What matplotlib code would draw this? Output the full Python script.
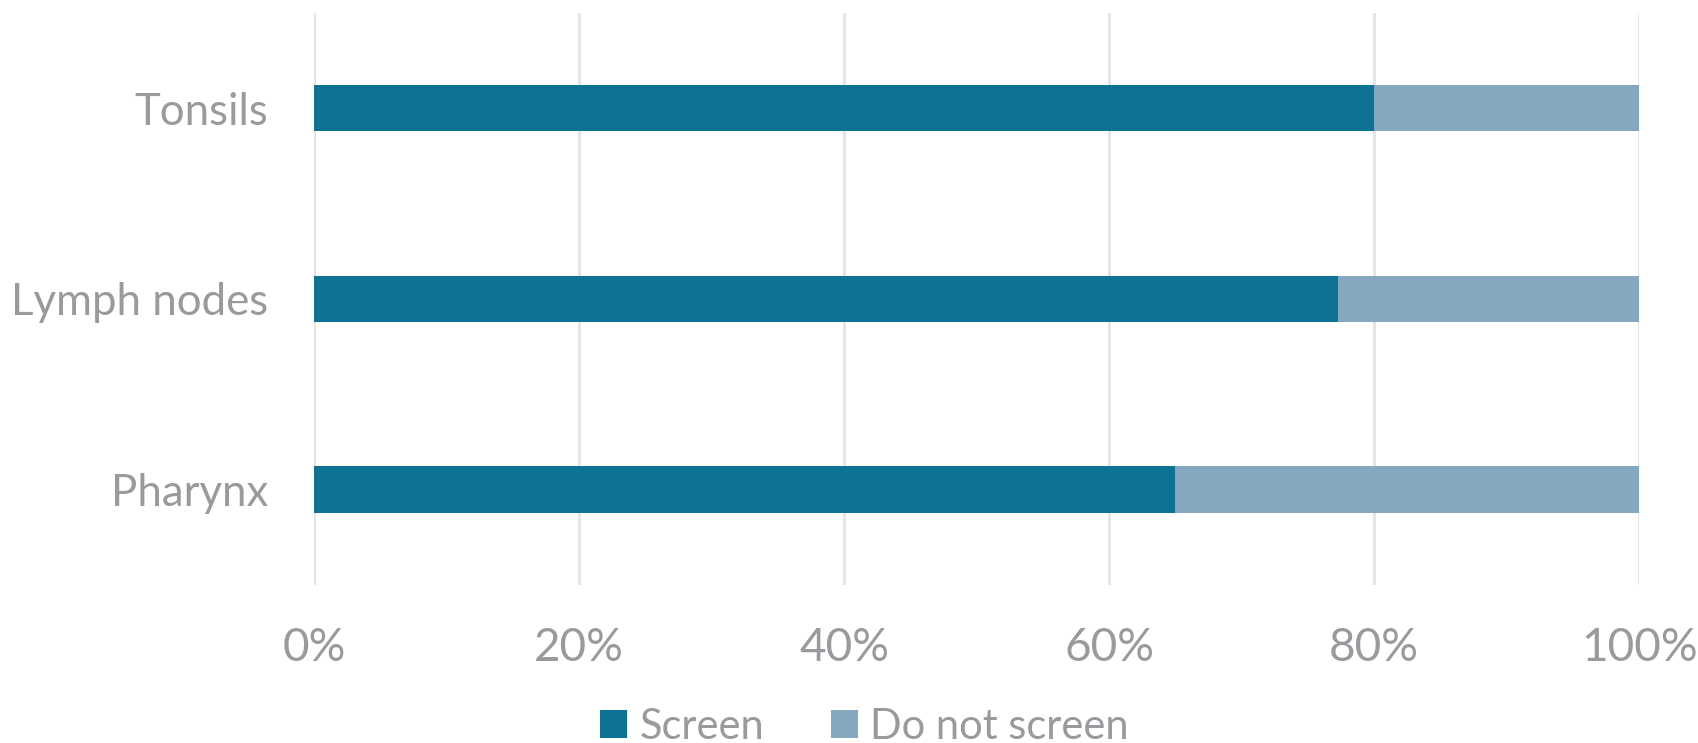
import matplotlib
matplotlib.use('Agg')
import matplotlib.pyplot as plt
from matplotlib.ticker import PercentFormatter

plt.rcParams['font.family'] = ['Lato', 'DejaVu Sans']

categories = ['Pharynx', 'Lymph nodes', 'Tonsils']
screen = [65.0, 77.3, 80.0]
do_not_screen = [35.0, 22.7, 20.0]
x_ticks = [0, 20, 40, 60, 80, 100]

c_screen = '#0E7293'
c_not = '#85A8C0'
grey = '#9A9A9E'

fig = plt.figure(figsize=(16.98, 7.43), dpi=100)
ax = fig.add_axes([0.1851, 0.2127, 0.7802, 0.7698])

ypos = range(len(categories))
ax.barh(ypos, screen, height=0.243, color=c_screen, label='Screen', zorder=3)
ax.barh(ypos, do_not_screen, left=screen, height=0.243, color=c_not,
        label='Do not screen', zorder=3)

ax.set_xlim(0, 100)
ax.set_ylim(-0.5, 2.5)
ax.set_xticks(x_ticks)
ax.xaxis.set_major_formatter(PercentFormatter(decimals=0))
ax.set_yticks(list(ypos))
ax.set_yticklabels(categories)
ax.grid(axis='x', color='#E3E3E3', linewidth=2, zorder=0)
for s in ax.spines.values():
    s.set_visible(False)
ax.tick_params(axis='both', length=0, colors=grey)
ax.tick_params(axis='x', labelsize=33, pad=30)
ax.tick_params(axis='y', labelsize=31.5, pad=33)

fig.legend(loc='center', bbox_to_anchor=(0.509, 1 - 727 / 743), ncol=2,
           frameon=False, fontsize=30, labelcolor=grey, handlelength=0.65,
           handleheight=0.65, handletextpad=0.3, columnspacing=1.6,
           borderpad=0)

fig.savefig('out.png', dpi=100)
